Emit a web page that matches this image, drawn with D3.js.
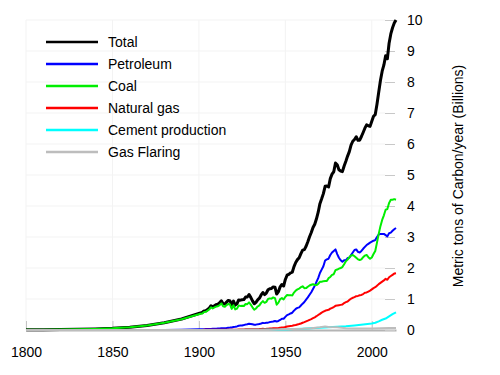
<!DOCTYPE html>
<html>
<head>
<meta charset="utf-8">
<script src="https://cdn.jsdelivr.net/npm/d3@7"></script>
<style>
  body { margin: 0; background: #fff; }
  text { font-family: "Liberation Sans", Arial, sans-serif; fill: #000; }
</style>
</head>
<body>
<div id="chart"></div>
<script>
// Years: every 10 years to 1890, then every year to 2014
var years = [1800, 1810, 1820, 1830, 1840, 1850, 1860, 1870, 1880, 1890,
  1900, 1901, 1902, 1903, 1904, 1905, 1906, 1907, 1908, 1909,
  1910, 1911, 1912, 1913, 1914, 1915, 1916, 1917, 1918, 1919,
  1920, 1921, 1922, 1923, 1924, 1925, 1926, 1927, 1928, 1929,
  1930, 1931, 1932, 1933, 1934, 1935, 1936, 1937, 1938, 1939,
  1940, 1941, 1942, 1943, 1944, 1945, 1946, 1947, 1948, 1949,
  1950, 1951, 1952, 1953, 1954, 1955, 1956, 1957, 1958, 1959,
  1960, 1961, 1962, 1963, 1964, 1965, 1966, 1967, 1968, 1969,
  1970, 1971, 1972, 1973, 1974, 1975, 1976, 1977, 1978, 1979,
  1980, 1981, 1982, 1983, 1984, 1985, 1986, 1987, 1988, 1989,
  1990, 1991, 1992, 1993, 1994, 1995, 1996, 1997, 1998, 1999,
  2000, 2001, 2002, 2003, 2004, 2005, 2006, 2007, 2008, 2009,
  2010, 2011, 2012, 2013, 2014];

// billions of metric tons of carbon per year
var total = [0.008, 0.010, 0.014, 0.024, 0.033, 0.054, 0.091, 0.147, 0.236, 0.356,
  0.534, 0.552, 0.566, 0.617, 0.624, 0.663, 0.707, 0.784, 0.750, 0.785,
  0.819, 0.836, 0.879, 0.943, 0.850, 0.838, 0.901, 0.955, 0.936, 0.806,
  0.932, 0.803, 0.845, 0.970, 0.963, 0.975, 0.983, 1.062, 1.065, 1.145,
  1.053, 0.940, 0.847, 0.893, 0.973, 1.027, 1.130, 1.209, 1.142, 1.192,
  1.299, 1.334, 1.342, 1.391, 1.383, 1.160, 1.238, 1.392, 1.469, 1.419,
  1.630, 1.768, 1.796, 1.841, 1.865, 2.043, 2.178, 2.270, 2.330, 2.462,
  2.577, 2.594, 2.700, 2.848, 3.008, 3.145, 3.305, 3.411, 3.588, 3.800,
  4.076, 4.231, 4.399, 4.635, 4.644, 4.615, 4.883, 5.029, 5.105, 5.387,
  5.332, 5.168, 5.127, 5.110, 5.290, 5.444, 5.610, 5.753, 5.964, 6.089,
  6.144, 6.235, 6.118, 6.124, 6.242, 6.372, 6.510, 6.619, 6.588, 6.569,
  6.735, 6.896, 6.949, 7.286, 7.672, 8.050, 8.350, 8.550, 8.850, 8.750,
  9.250, 9.550, 9.750, 9.900, 10.000];

var petroleum = [0, 0, 0, 0, 0, 0, 0, 0.001, 0.003, 0.009,
  0.023, 0.024, 0.026, 0.027, 0.030, 0.031, 0.032, 0.036, 0.040, 0.042,
  0.044, 0.047, 0.049, 0.054, 0.056, 0.060, 0.064, 0.076, 0.078, 0.083,
  0.097, 0.103, 0.116, 0.137, 0.142, 0.147, 0.159, 0.174, 0.183, 0.200,
  0.193, 0.183, 0.171, 0.173, 0.182, 0.195, 0.208, 0.230, 0.222, 0.236,
  0.237, 0.255, 0.263, 0.275, 0.290, 0.275, 0.292, 0.323, 0.364, 0.362,
  0.423, 0.479, 0.504, 0.533, 0.557, 0.625, 0.679, 0.714, 0.731, 0.789,
  0.849, 0.904, 0.980, 1.052, 1.137, 1.219, 1.323, 1.423, 1.551, 1.673,
  1.839, 1.947, 2.057, 2.240, 2.280, 2.300, 2.420, 2.500, 2.550, 2.600,
  2.450, 2.330, 2.250, 2.200, 2.250, 2.250, 2.320, 2.330, 2.420, 2.500,
  2.580, 2.600, 2.520, 2.500, 2.550, 2.620, 2.680, 2.740, 2.780, 2.820,
  2.850, 2.880, 2.900, 3.000, 3.080, 3.100, 3.100, 3.100, 3.060, 3.020,
  3.120, 3.140, 3.200, 3.250, 3.290];

var coal = [0.008, 0.010, 0.014, 0.024, 0.033, 0.054, 0.091, 0.146, 0.233, 0.345,
  0.507, 0.522, 0.535, 0.583, 0.587, 0.624, 0.663, 0.733, 0.695, 0.727,
  0.757, 0.766, 0.803, 0.860, 0.764, 0.748, 0.804, 0.843, 0.821, 0.682,
  0.799, 0.664, 0.688, 0.791, 0.778, 0.783, 0.774, 0.838, 0.834, 0.890,
  0.819, 0.732, 0.652, 0.694, 0.759, 0.795, 0.876, 0.933, 0.876, 0.907,
  1.001, 1.019, 1.012, 1.050, 1.029, 0.815, 0.883, 0.996, 1.028, 0.984,
  1.070, 1.129, 1.119, 1.125, 1.116, 1.208, 1.273, 1.309, 1.336, 1.382,
  1.410, 1.349, 1.351, 1.396, 1.435, 1.460, 1.478, 1.448, 1.448, 1.486,
  1.556, 1.559, 1.576, 1.581, 1.579, 1.673, 1.710, 1.780, 1.800, 1.930,
  1.950, 1.980, 2.000, 2.030, 2.120, 2.220, 2.270, 2.350, 2.400, 2.420,
  2.380, 2.330, 2.280, 2.260, 2.280, 2.350, 2.400, 2.420, 2.350, 2.300,
  2.340, 2.450, 2.550, 2.820, 3.100, 3.350, 3.550, 3.700, 3.880, 3.900,
  4.100, 4.200, 4.200, 4.220, 4.200];

var naturalGas = [0, 0, 0, 0, 0, 0, 0, 0, 0, 0.003,
  0.003, 0.004, 0.004, 0.005, 0.005, 0.005, 0.006, 0.007, 0.007, 0.007,
  0.007, 0.008, 0.008, 0.008, 0.008, 0.008, 0.009, 0.010, 0.010, 0.010,
  0.011, 0.010, 0.011, 0.014, 0.016, 0.017, 0.019, 0.021, 0.023, 0.028,
  0.028, 0.025, 0.024, 0.025, 0.028, 0.030, 0.034, 0.038, 0.036, 0.038,
  0.042, 0.045, 0.048, 0.053, 0.058, 0.060, 0.062, 0.069, 0.077, 0.081,
  0.097, 0.115, 0.124, 0.131, 0.138, 0.150, 0.161, 0.178, 0.192, 0.210,
  0.235, 0.254, 0.277, 0.300, 0.328, 0.351, 0.380, 0.410, 0.445, 0.483,
  0.520, 0.560, 0.590, 0.620, 0.640, 0.650, 0.690, 0.710, 0.740, 0.780,
  0.790, 0.800, 0.810, 0.820, 0.870, 0.900, 0.920, 0.970, 1.010, 1.040,
  1.060, 1.090, 1.100, 1.120, 1.130, 1.160, 1.200, 1.210, 1.240, 1.270,
  1.310, 1.350, 1.380, 1.430, 1.480, 1.520, 1.560, 1.600, 1.650, 1.620,
  1.700, 1.740, 1.780, 1.820, 1.830];

// cement and flaring only change slowly, so fewer points
var cementYears = [1800, 1920, 1928, 1930, 1935, 1940, 1945, 1950, 1955, 1960, 1965, 1970,
  1975, 1980, 1985, 1990, 1995, 2000, 2002, 2004, 2006, 2008, 2010, 2012, 2014];
var cement = [0, 0, 0.010, 0.010, 0.011, 0.014, 0.011, 0.018, 0.030, 0.043, 0.057, 0.075,
  0.090, 0.105, 0.120, 0.145, 0.175, 0.210, 0.235, 0.280, 0.330, 0.370, 0.440, 0.510, 0.570];

var flaringYears = [1800, 1900, 1940, 1950, 1955, 1960, 1965, 1970, 1973, 1975, 1980,
  1985, 1990, 1995, 2000, 2005, 2010, 2014];
var flaring = [0, 0, 0, 0.023, 0.031, 0.039, 0.055, 0.087, 0.110, 0.100, 0.089,
  0.060, 0.050, 0.050, 0.046, 0.060, 0.065, 0.068];

var xTicks = [1800, 1850, 1900, 1950, 2000];
var yTicks = [0, 1, 2, 3, 4, 5, 6, 7, 8, 9, 10];

var seriesNames = ["Total", "Petroleum", "Coal", "Natural gas", "Cement production", "Gas Flaring"];
var seriesColors = ["#000000", "#0000ff", "#00ee00", "#ff0000", "#00ffff", "#bdbdbd"];

var svgWidth = 500;
var svgHeight = 375;

var svg = d3.select("#chart")
  .append("svg")
  .attr("width", svgWidth)
  .attr("height", svgHeight);

svg.append("rect")
  .attr("width", svgWidth)
  .attr("height", svgHeight)
  .attr("fill", "#fff");

// Scales
var xScale = d3.scaleLinear()
  .domain([1800, 2014])
  .range([26, 396]);

var yScale = d3.scaleLinear()
  .domain([0, 10])
  .range([330, 20]);

// faint grid
svg.append("g")
  .selectAll("line")
  .data(xTicks)
  .enter()
  .append("line")
  .attr("x1", d => xScale(d))
  .attr("x2", d => xScale(d))
  .attr("y1", yScale(10))
  .attr("y2", yScale(0))
  .attr("stroke", "#f3f3f3");

svg.append("g")
  .selectAll("line")
  .data(yTicks.slice(1))
  .enter()
  .append("line")
  .attr("x1", xScale(1800))
  .attr("x2", 385)
  .attr("y1", d => yScale(d))
  .attr("y2", d => yScale(d))
  .attr("stroke", "#f3f3f3");

// Axes
var bottomAxis = d3.axisBottom(xScale)
  .tickValues(xTicks)
  .tickFormat(d3.format("d"))
  .tickSizeInner(-9)
  .tickSizeOuter(0)
  .tickPadding(17);

var xAxis = svg.append("g")
  .attr("transform", `translate(0, ${yScale(0)})`)
  .call(bottomAxis);

xAxis.select(".domain").attr("stroke", "#b4b4b4").attr("stroke-width", 2);
xAxis.selectAll(".tick line").attr("stroke", "#c4c4c4");
xAxis.selectAll("text").attr("font-size", 14).attr("fill", "#000");

var rightAxis = d3.axisRight(yScale)
  .tickValues(yTicks)
  .tickSize(10)
  .tickPadding(12);

var yAxis = svg.append("g")
  .attr("transform", "translate(385, 0)")
  .call(rightAxis);

yAxis.select(".domain").remove();
yAxis.selectAll(".tick line").attr("stroke", "#c8c8c8");
yAxis.selectAll("text").attr("font-size", 14).attr("fill", "#000");

svg.append("text")
  .attr("transform", "translate(463, 176) rotate(-90)")
  .attr("text-anchor", "middle")
  .attr("font-size", 14)
  .text("Metric tons of Carbon/year (Billions)");

// Lines
var line = d3.line()
  .x(d => xScale(d[0]))
  .y(d => yScale(d[1]));

var seriesData = [
  d3.zip(years, total),
  d3.zip(years, petroleum),
  d3.zip(years, coal),
  d3.zip(years, naturalGas),
  d3.zip(cementYears, cement),
  d3.zip(flaringYears, flaring)
];

svg.append("g")
  .selectAll("path")
  .data(seriesData)
  .enter()
  .append("path")
  .attr("d", line)
  .attr("fill", "none")
  .attr("stroke", (d, i) => seriesColors[i])
  .attr("stroke-width", (d, i) => i == 0 ? 3 : 2)
  .attr("stroke-linejoin", "round");

// Legend
var legend = svg.append("g")
  .selectAll("g")
  .data(seriesNames)
  .enter()
  .append("g")
  .attr("transform", (d, i) => `translate(46, ${42 + i * 22})`);

legend.append("line")
  .attr("x1", 0)
  .attr("x2", 52)
  .attr("stroke", (d, i) => seriesColors[i])
  .attr("stroke-width", 2.5);

legend.append("text")
  .attr("x", 62)
  .attr("dy", "0.35em")
  .attr("font-size", 14)
  .text(d => d);
</script>
</body>
</html>
